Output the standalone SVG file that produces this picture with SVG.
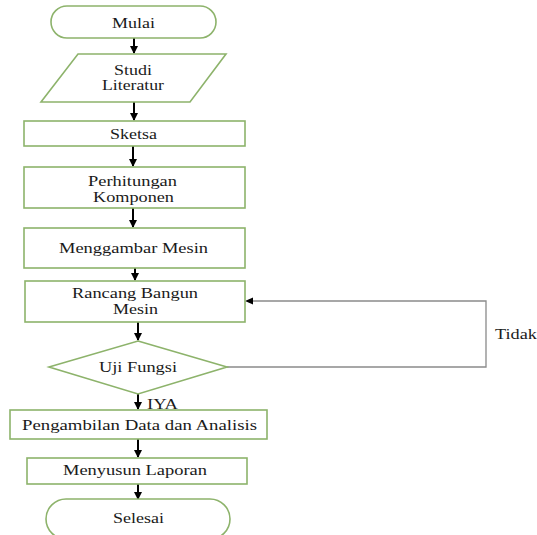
<svg xmlns="http://www.w3.org/2000/svg" width="537" height="535" viewBox="0 0 537 535">
<style>
.s{fill:#fff;stroke:#8db36b;stroke-width:1.6}
.t{font-family:'Liberation Serif','DejaVu Serif',serif;font-size:15px;fill:#1a1a1a;text-anchor:middle}
.a{stroke:#000;stroke-width:2;fill:none}
.g{stroke:#8a8a8a;stroke-width:1.3;fill:none}
</style>
<defs>
<marker id="ah" markerWidth="8" markerHeight="8" refX="7" refY="4" orient="auto" markerUnits="userSpaceOnUse">
<path d="M0,0 L8,4 L0,8 z" fill="#000"/>
</marker>
</defs>
<rect width="537" height="535" fill="#fff"/>
<g id="connectors">
<line class="a" x1="134" y1="38" x2="134" y2="53" marker-end="url(#ah)"/>
<line class="a" x1="134" y1="102" x2="134" y2="120" marker-end="url(#ah)"/>
<line class="a" x1="133" y1="146" x2="133" y2="166" marker-end="url(#ah)"/>
<line class="a" x1="133" y1="208" x2="133" y2="227" marker-end="url(#ah)"/>
<line class="a" x1="135" y1="268" x2="135" y2="280" marker-end="url(#ah)"/>
<line class="a" x1="138" y1="322" x2="138" y2="340" marker-end="url(#ah)"/>
<line class="a" x1="138" y1="394" x2="138" y2="409" marker-end="url(#ah)"/>
<line class="a" x1="138" y1="439" x2="138" y2="457" marker-end="url(#ah)"/>
<line class="a" x1="138" y1="484" x2="138" y2="499" marker-end="url(#ah)"/>
<polyline class="g" points="227,367 486,367 486,301 252,301"/>
<path d="M245,301 L253,297.5 L253,304.5 z" fill="#000"/>
<text class="t" x="162.5" y="409" textLength="31" lengthAdjust="spacingAndGlyphs">IYA</text>
<text class="t" x="516" y="339" textLength="42" lengthAdjust="spacingAndGlyphs">Tidak</text>
</g>
<g id="mulai">
<rect class="s" x="51" y="6" width="165" height="32" rx="16"/>
<text class="t" x="133.5" y="27.5" textLength="43" lengthAdjust="spacingAndGlyphs">Mulai</text>
</g>
<g id="studi">
<polygon class="s" points="78,54 226,54 190,102 41,102"/>
<text class="t" x="133" y="74.5" textLength="38" lengthAdjust="spacingAndGlyphs">Studi</text>
<text class="t" x="133" y="90" textLength="62" lengthAdjust="spacingAndGlyphs">Literatur</text>
</g>
<g id="sketsa">
<rect class="s" x="24" y="121" width="221" height="25"/>
<text class="t" x="133.5" y="138.5" textLength="47" lengthAdjust="spacingAndGlyphs">Sketsa</text>
</g>
<g id="perhitungan">
<rect class="s" x="24" y="167" width="221" height="41"/>
<text class="t" x="132.5" y="186" textLength="89" lengthAdjust="spacingAndGlyphs">Perhitungan</text>
<text class="t" x="133.5" y="201.5" textLength="81" lengthAdjust="spacingAndGlyphs">Komponen</text>
</g>
<g id="menggambar">
<rect class="s" x="24" y="228" width="221" height="40"/>
<text class="t" x="133.5" y="252.5" textLength="149" lengthAdjust="spacingAndGlyphs">Menggambar Mesin</text>
</g>
<g id="rancang">
<rect class="s" x="25" y="281" width="220" height="41"/>
<text class="t" x="135" y="298" textLength="126" lengthAdjust="spacingAndGlyphs">Rancang Bangun</text>
<text class="t" x="135.5" y="313.5" textLength="45" lengthAdjust="spacingAndGlyphs">Mesin</text>
</g>
<g id="uji">
<polygon class="s" points="138,341 227,367 138,394 49,367"/>
<text class="t" x="138" y="371.5" textLength="78" lengthAdjust="spacingAndGlyphs">Uji Fungsi</text>
</g>
<g id="pengambilan">
<rect class="s" x="10" y="410" width="257" height="29"/>
<text class="t" x="139.5" y="429.5" textLength="235" lengthAdjust="spacingAndGlyphs">Pengambilan Data dan Analisis</text>
</g>
<g id="menyusun">
<rect class="s" x="27" y="458" width="220" height="26"/>
<text class="t" x="135" y="474.5" textLength="144" lengthAdjust="spacingAndGlyphs">Menyusun Laporan</text>
</g>
<g id="selesai">
<rect class="s" x="46" y="499" width="184" height="40" rx="20"/>
<text class="t" x="138.5" y="522.5" textLength="51" lengthAdjust="spacingAndGlyphs">Selesai</text>
</g>
</svg>
